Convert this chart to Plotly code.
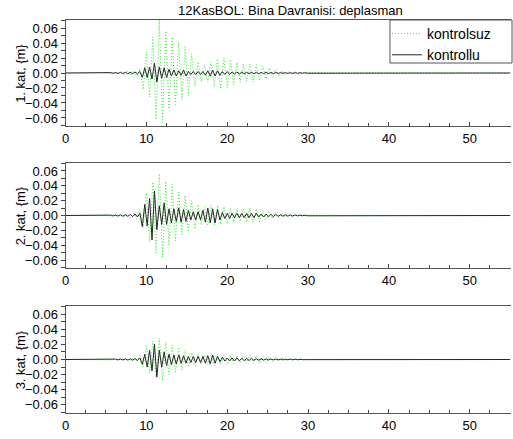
import plotly.graph_objects as go

# ---------------------------------------------------------------
# Building response (displacement) under the 12 Kasim Bolu record
# Peak-to-peak samples of floor displacement [m]
# ---------------------------------------------------------------
T_END = 55.0

# uncontrolled response: samples start at 5.2 s, every 0.4 s
T0_KONTROLSUZ = 5.2
DT_KONTROLSUZ = 0.4
# controlled response: samples start at 5.0 s, every 0.3 s
T0_KONTROLLU = 5.0
DT_KONTROLLU = 0.3

kat1_kontrolsuz = [
    0.0005, -0.0008, 0.001, -0.0012, 0.002, -0.002, 0.003, -0.003, 0.003, -0.004,
    0.006, -0.022, 0.028, -0.032, 0.048, -0.062, 0.071, -0.066, 0.056, -0.048,
    0.048, -0.042, 0.041, -0.036, 0.035, -0.030, 0.026, -0.018, 0.015, -0.012,
    0.011, -0.012, 0.015, -0.018, 0.019, -0.021, 0.020, -0.020, 0.018, -0.016,
    0.014, -0.012, 0.012, -0.011, 0.012, -0.012, 0.011, -0.010, 0.009, -0.008,
    0.007, -0.006, 0.005, -0.004, 0.003, -0.003, 0.002, -0.002, 0.0015, -0.0012,
    0.001, -0.0008, 0.0005,
]
kat1_kontrollu = [
    0.0003, -0.0004, 0.0005, -0.0005, 0.0006, -0.0006, 0.0008, -0.0008, 0.001, -0.001,
    0.001, -0.001, 0.0012, -0.0012, 0.002, -0.006, 0.007, -0.006, 0.008, -0.008,
    0.013, -0.012, 0.008, -0.007, 0.007, -0.006, 0.005, -0.004, 0.004, -0.004,
    0.003, -0.003, 0.004, -0.004, 0.002, -0.002, 0.002, -0.002, 0.002, -0.002,
    0.002, -0.003, 0.003, -0.004, 0.004, -0.004, 0.003, -0.003, 0.002, -0.002,
    0.002, -0.002, 0.0015, -0.0015, 0.0015, -0.0015, 0.0012, -0.0012, 0.001, -0.001,
    0.001, -0.001, 0.001, -0.001, 0.0008, -0.0008, 0.0008, -0.0008, 0.0006, -0.0006,
    0.0006, -0.0006, 0.0005, -0.0005, 0.0005, -0.0005, 0.0004, -0.0004, 0.0004, -0.0004,
    0.0003, -0.0003, 0.0003, -0.0003,
]

kat2_kontrolsuz = [
    0.0005, -0.0008, 0.001, -0.0012, 0.0015, -0.002, 0.002, -0.003, 0.003, -0.004,
    0.008, -0.016, 0.030, -0.035, 0.045, -0.050, 0.056, -0.056, 0.046, -0.040,
    0.042, -0.034, 0.033, -0.026, 0.027, -0.022, 0.020, -0.018, 0.015, -0.013,
    0.012, -0.013, 0.014, -0.013, 0.013, -0.012, 0.012, -0.011, 0.010, -0.009,
    0.009, -0.008, 0.009, -0.009, 0.010, -0.009, 0.009, -0.008, 0.007, -0.006,
    0.005, -0.004, 0.004, -0.003, 0.003, -0.002, 0.002, -0.0015, 0.0012, -0.001,
    0.0008, -0.0006, 0.0005,
]
kat2_kontrollu = [
    0.0003, -0.0004, 0.0005, -0.0006, 0.0007, -0.0008, 0.001, -0.001, 0.0012, -0.0012,
    0.0015, -0.0015, 0.002, -0.002, 0.003, -0.015, 0.015, -0.014, 0.023, -0.033,
    0.033, -0.019, 0.013, -0.012, 0.017, -0.012, 0.009, -0.010, 0.009, -0.008,
    0.010, -0.009, 0.008, -0.008, 0.007, -0.006, 0.005, -0.006, 0.005, -0.006,
    0.007, -0.009, 0.010, -0.010, 0.009, -0.010, 0.008, -0.006, 0.004, -0.004,
    0.003, -0.004, 0.003, -0.003, 0.003, -0.003, 0.003, -0.003, 0.003, -0.003,
    0.003, -0.003, 0.003, -0.002, 0.002, -0.002, 0.002, -0.0018, 0.0016, -0.0015,
    0.0014, -0.0012, 0.0011, -0.001, 0.001, -0.0009, 0.0008, -0.0008, 0.0007, -0.0006,
    0.0006, -0.0005, 0.0005, -0.0004,
]

kat3_kontrolsuz = [
    0.0004, -0.0005, 0.0006, -0.0008, 0.001, -0.001, 0.0012, -0.0015, 0.002, -0.002,
    0.005, -0.010, 0.018, -0.018, 0.024, -0.024, 0.028, -0.028, 0.023, -0.020,
    0.019, -0.017, 0.016, -0.014, 0.012, -0.010, 0.009, -0.008, 0.007, -0.006,
    0.006, -0.007, 0.008, -0.008, 0.007, -0.007, 0.006, -0.006, 0.005, -0.005,
    0.005, -0.005, 0.005, -0.005, 0.006, -0.005, 0.005, -0.005, 0.004, -0.004,
    0.003, -0.003, 0.0025, -0.002, 0.002, -0.0015, 0.0012, -0.001, 0.0008, -0.0006,
    0.0005, -0.0004, 0.0003,
]
kat3_kontrollu = [
    0.0002, -0.0003, 0.0004, -0.0004, 0.0005, -0.0005, 0.0006, -0.0006, 0.0008, -0.0008,
    0.001, -0.001, 0.0012, -0.0012, 0.002, -0.006, 0.007, -0.010, 0.012, -0.015,
    0.020, -0.023, 0.012, -0.010, 0.010, -0.008, 0.007, -0.007, 0.006, -0.006,
    0.006, -0.005, 0.005, -0.005, 0.004, -0.004, 0.004, -0.004, 0.004, -0.004,
    0.004, -0.005, 0.005, -0.006, 0.006, -0.005, 0.004, -0.003, 0.003, -0.002,
    0.002, -0.002, 0.002, -0.002, 0.002, -0.0018, 0.0016, -0.0015, 0.0014, -0.0013,
    0.0012, -0.0011, 0.001, -0.001, 0.0009, -0.0008, 0.0008, -0.0007, 0.0007, -0.0006,
    0.0006, -0.0005, 0.0005, -0.0005, 0.0004, -0.0004, 0.0004, -0.0003, 0.0003, -0.0003,
    0.0003, -0.0002, 0.0002, -0.0002,
]

series = [
    ("1. kat, {m}", kat1_kontrolsuz, kat1_kontrollu),
    ("2. kat, {m}", kat2_kontrolsuz, kat2_kontrollu),
    ("3. kat, {m}", kat3_kontrolsuz, kat3_kontrollu),
]

x_ticks = [0, 10, 20, 30, 40, 50]
y_ticks = [-0.06, -0.04, -0.02, 0.0, 0.02, 0.04, 0.06]

W, H = 513, 439
# panel boxes in pixels (top, bottom)
panels_px = [(20, 126), (163, 268), (306, 413)]
x_left, x_right = 62, 511
# legend frame in pixels (left, top, right, bottom)
legend_box = (389, 20, 512, 63)

GREEN = "#2cf02c"
DARK = "#262626"
FONT = "Liberation Sans, Arial, sans-serif"


def sample_times(t0, dt, n):
    return [round(t0 + dt * i, 3) for i in range(n)]


def with_rest(t, y):
    # quiet record before and after the shaking
    return [0.0] + t + [T_END], [0.0] + list(y) + [0.0]


fig = go.Figure()
annotations = []

for i, (label, unc, con) in enumerate(series):
    ax = "" if i == 0 else str(i + 1)
    tu, yu = with_rest(sample_times(T0_KONTROLSUZ, DT_KONTROLSUZ, len(unc)), unc)
    tc, yc = with_rest(sample_times(T0_KONTROLLU, DT_KONTROLLU, len(con)), con)
    fig.add_trace(go.Scatter(
        x=tu, y=yu, mode="lines", name="kontrolsuz",
        line=dict(color=GREEN, width=1, dash="1px,2px"),
        xaxis="x" + ax, yaxis="y" + ax, showlegend=(i == 0),
    ))
    fig.add_trace(go.Scatter(
        x=tc, y=yc, mode="lines", name="kontrollu",
        line=dict(color=DARK, width=1),
        xaxis="x" + ax, yaxis="y" + ax, showlegend=(i == 0),
    ))

    top, bot = panels_px[i]
    dom_y = [1 - bot / H, 1 - top / H]
    fig.layout["xaxis" + ax] = dict(
        domain=[x_left / W, x_right / W], anchor="y" + ax,
        range=[0, 55.1], tickvals=x_ticks, ticks="inside", ticklen=4,
        tickcolor="#444", minor=dict(dtick=2.5, ticks="inside", ticklen=3, tickcolor="#444"),
        showline=True, linecolor="#555", linewidth=1, mirror=True,
        showgrid=False, zeroline=False,
        tickfont=dict(family=FONT, size=13, color="black"),
    )
    fig.layout["yaxis" + ax] = dict(
        domain=dom_y, anchor="x" + ax,
        range=[-0.0707, 0.0707], tickvals=y_ticks, tickformat=".2f",
        ticks="outside", ticklen=4, tickcolor="#444",
        minor=dict(dtick=0.01, ticks="outside", ticklen=4, tickcolor="#444"),
        showline=True, linecolor="#555", linewidth=1,
        showgrid=False, zeroline=False,
        tickfont=dict(family=FONT, size=13, color="black"),
    )
    annotations.append(dict(
        text=label, textangle=-90, showarrow=False,
        x=17 / W, y=1 - (top + bot) / 2 / H, xref="paper", yref="paper",
        xanchor="center", yanchor="middle",
        font=dict(family=FONT, size=13, color="black"),
    ))

annotations.append(dict(
    text="12KasBOL: Bina Davranisi: deplasman", showarrow=False,
    x=289 / W, y=1 - 11 / H, xref="paper", yref="paper",
    xanchor="center", yanchor="middle",
    font=dict(family=FONT, size=13, color="black"),
))

lb_left, lb_top, lb_right, lb_bot = legend_box
fig.update_layout(
    width=W, height=H,
    margin=dict(l=0, r=0, t=0, b=0),
    paper_bgcolor="white", plot_bgcolor="white",
    annotations=annotations,
    shapes=[dict(
        type="rect", xref="paper", yref="paper", layer="above",
        x0=lb_left / W, x1=lb_right / W, y0=1 - lb_bot / H, y1=1 - lb_top / H,
        fillcolor="white", line=dict(color="#555", width=1),
    )],
    legend=dict(
        x=386 / W, y=1 - 18 / H, xanchor="left", yanchor="top",
        bgcolor="rgba(0,0,0,0)", borderwidth=0,
        font=dict(family=FONT, size=14, color="black"),
        itemwidth=30, tracegroupgap=0,
    ),
)

fig.write_html("out.html")
